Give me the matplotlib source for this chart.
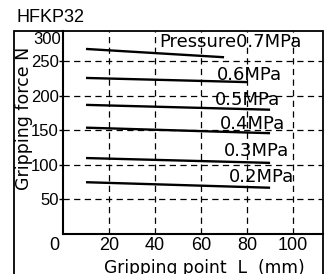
import matplotlib
matplotlib.use("Agg")
import matplotlib.pyplot as plt
from matplotlib import font_manager
from matplotlib.patches import Rectangle

plt.rcParams["font.family"] = ["Liberation Sans", "DejaVu Sans"]

# ---------------------------------------------------------------------------
# Data
# ---------------------------------------------------------------------------
PRESSURES = ["0.7MPa", "0.6MPa", "0.5MPa", "0.4MPa", "0.3MPa", "0.2MPa"]
X_START   = [10, 10, 10, 10, 10, 10]
X_END     = [70, 80, 90, 90, 90, 90]
F_START   = [268, 226, 187, 154, 110, 75]
F_END     = [256, 220, 180, 146, 103, 67]
LABELS    = ["Pressure0.7MPa", "0.6MPa", "0.5MPa", "0.4MPa", "0.3MPa", "0.2MPa"]
LABEL_X   = [42, 67, 66, 68, 70, 72]
LABEL_Y   = [278, 231, 194, 159, 120, 83]

X_TICKS = [20, 40, 60, 80, 100]
Y_TICKS = [50, 100, 150, 200, 250]

W, H = 329, 274
WIDE = ["DejaVu Sans"]

# y tick numbers in the reference are tall and narrow
try:
    font_manager.findfont("Liberation Sans Narrow", fallback_to_default=False)
    NARROW, NARROW_FS = ["Liberation Sans Narrow"], 13
except ValueError:
    NARROW, NARROW_FS = ["Liberation Sans"], 12

fig = plt.figure(figsize=(W / 100, H / 100), dpi=100)
ax = fig.add_axes([63 / W, 1 - 234 / H, 260 / W, 203 / H])

for xs, xe, fs, fe in zip(X_START, X_END, F_START, F_END):
    ax.plot([xs, xe], [fs, fe], color="black", lw=1.7, solid_capstyle="butt")

for lab, lx, ly in zip(LABELS, LABEL_X, LABEL_Y):
    ax.text(lx, ly, lab, fontsize=13, family=WIDE, va="center", ha="left")

ax.set_xlim(0, 113)
ax.set_ylim(0, 294)
ax.set_xticks(X_TICKS)
ax.set_yticks(Y_TICKS)
ax.tick_params(axis="x", length=0, labelsize=13, pad=2)
ax.tick_params(axis="y", length=3, width=1, direction="out", pad=0)
for t in ax.get_yticklabels():
    t.set_family(NARROW)
    t.set_fontsize(NARROW_FS)
ax.grid(True, color="black", lw=0.9, ls=(0, (5, 3.5)))

for side in ["top", "right"]:
    ax.spines[side].set_visible(False)
for side in ["left", "bottom"]:
    ax.spines[side].set_linewidth(1.5)

# corner labels
fig.text(61 / W, 1 - 40 / H, "300", fontsize=NARROW_FS, family=NARROW,
         ha="right", va="center")
fig.text(54 / W, 1 - 246 / H, "0", fontsize=13, ha="center", va="center")

# outer frame
fig.patches.append(Rectangle((14 / W, -0.05), 309 / W, 1 - 31 / H + 0.05,
                             transform=fig.transFigure, fill=False,
                             lw=1.3, ec="black"))

fig.text(16 / W, 1 - 18 / H, "HFKP32", fontsize=13, ha="left", va="center")
fig.text(24 / W, 1 - 118 / H, "Gripping force N", fontsize=12.5, family=WIDE,
         rotation=90, ha="center", va="center")
fig.text(204 / W, 1 - 259 / H, "Gripping point  L  (mm)", fontsize=12.3,
         family=WIDE, ha="center", va="top")

fig.savefig("out.png", dpi=100)
